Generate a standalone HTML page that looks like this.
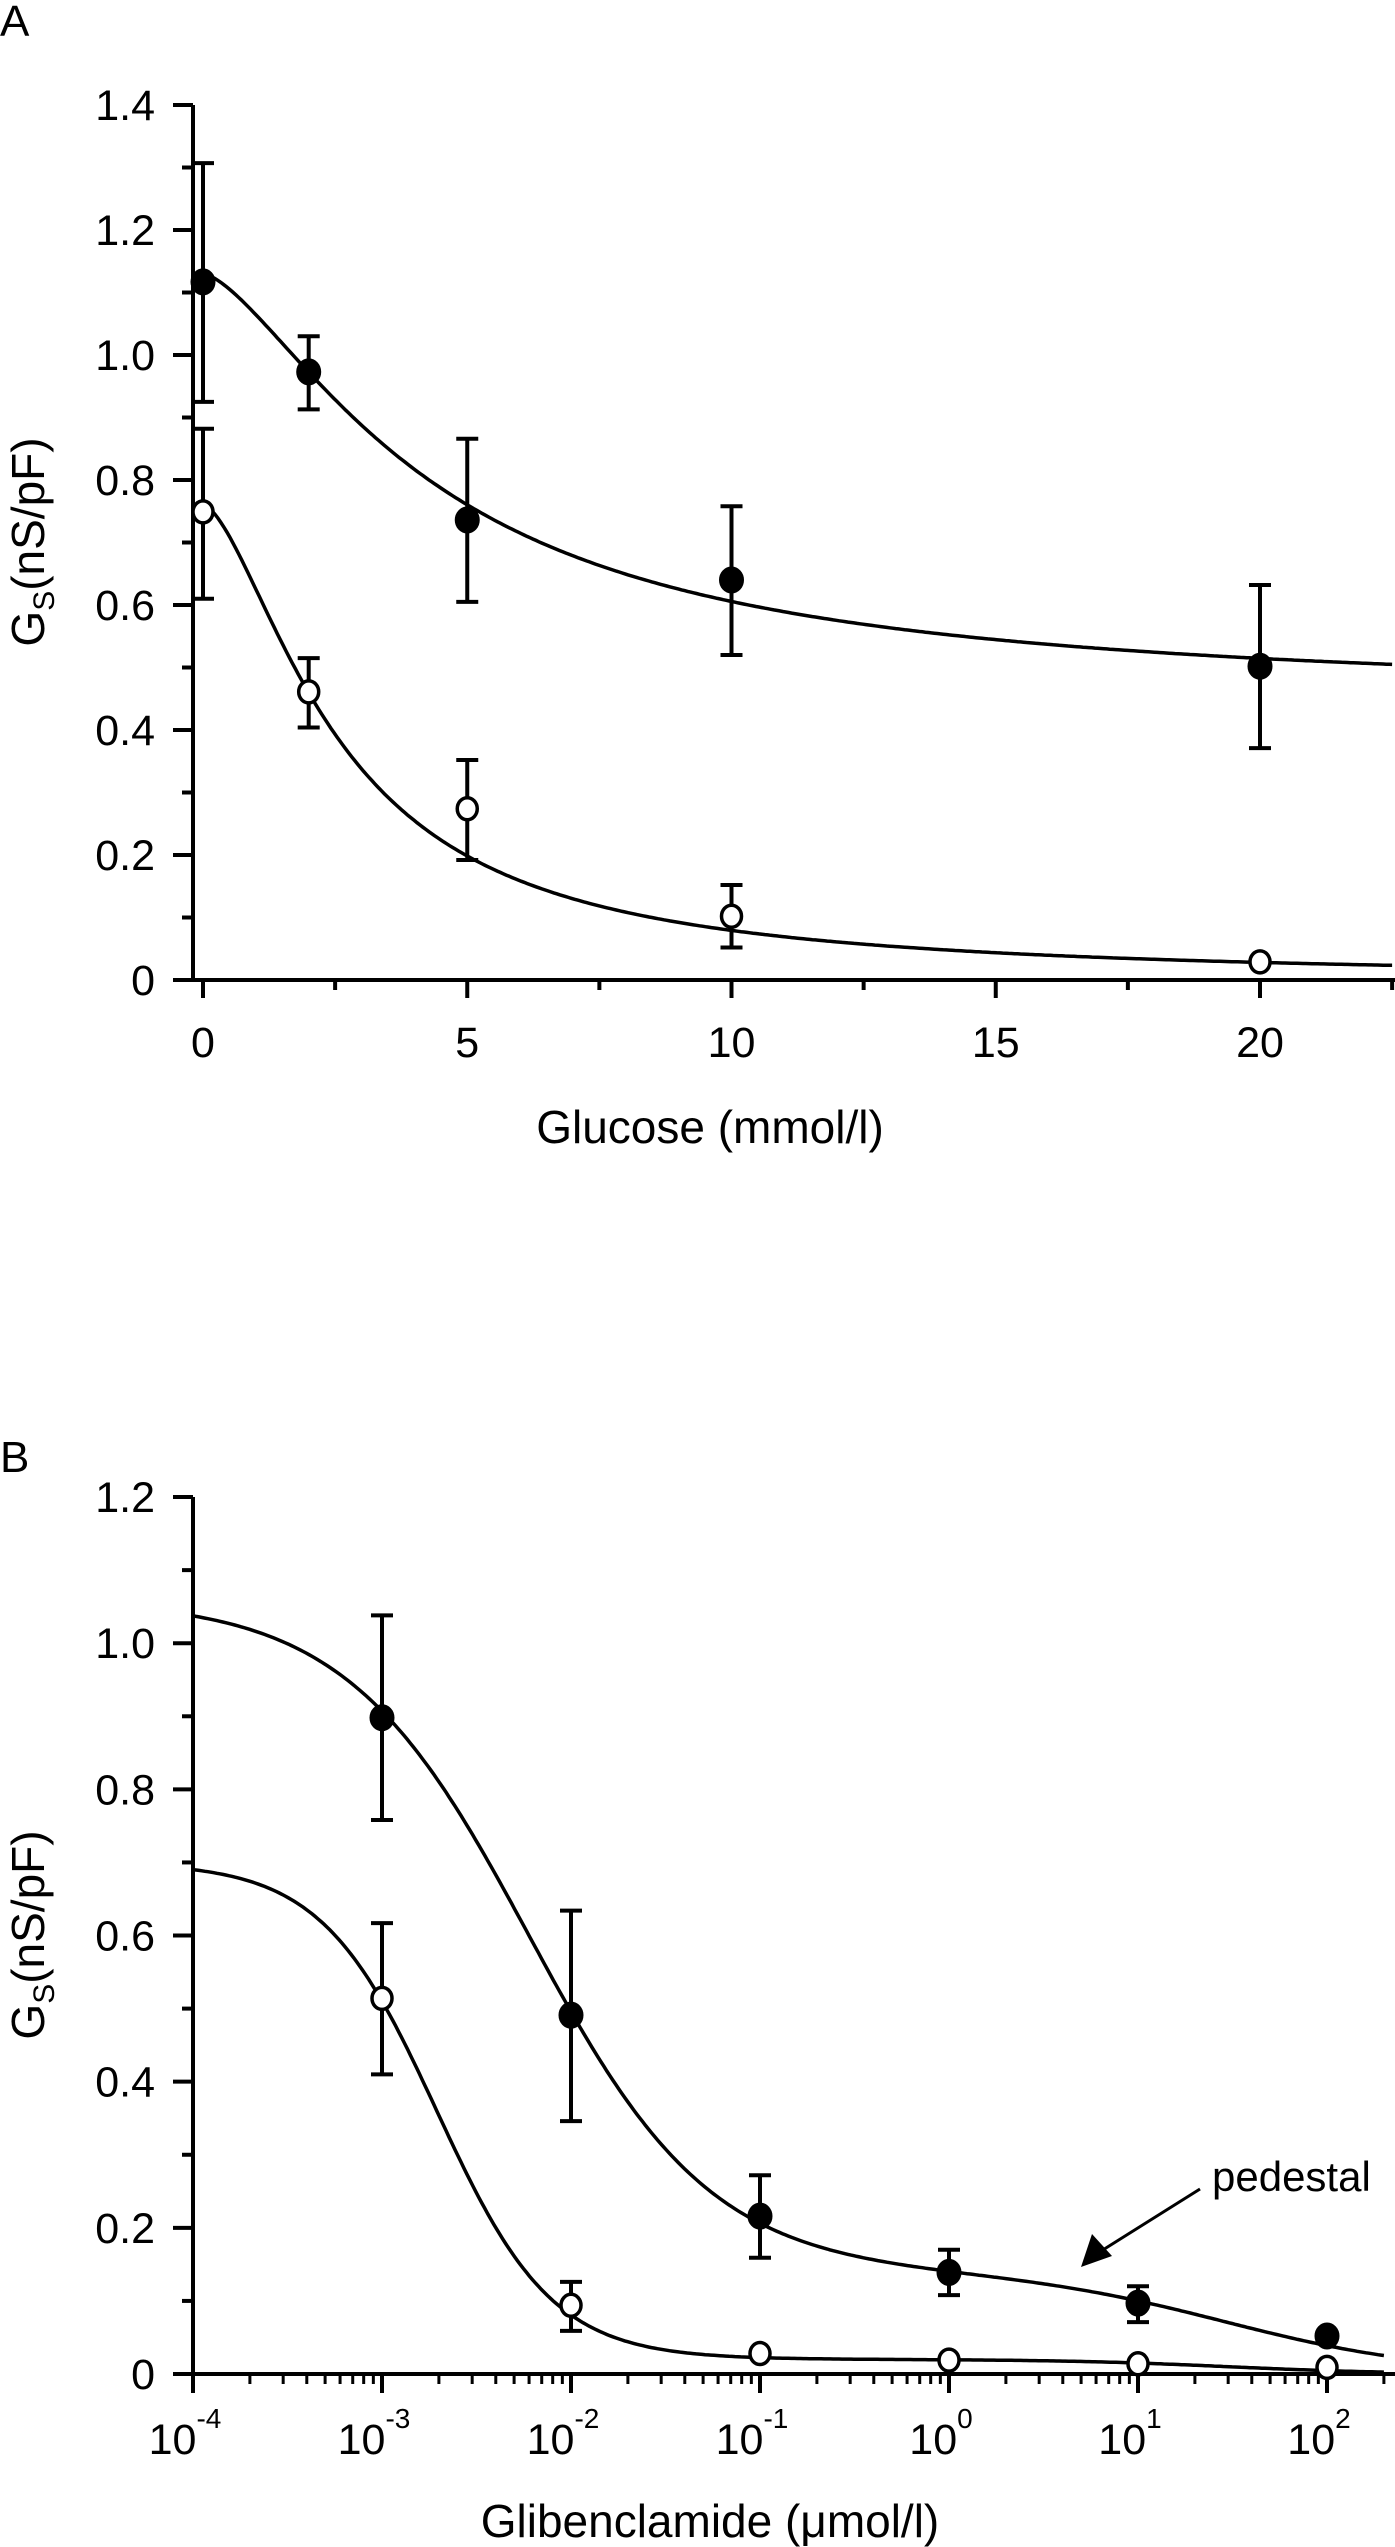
<!DOCTYPE html>
<html><head><meta charset="utf-8"><style>
html,body{margin:0;padding:0;background:#fff;}
svg{display:block;}
text{font-family:"Liberation Sans",Arial,sans-serif;fill:#000;}
</style></head><body>
<svg id="fig" width="1395" height="2547" viewBox="0 0 1395 2547" xmlns="http://www.w3.org/2000/svg">
<text x="0" y="36" font-size="44">A</text>
<text x="0" y="1472" font-size="44">B</text>
<g id="chartA"></g>
<g id="chartB"></g>
</svg>
<script>
// ---- Panel A data ----
const aX = [0, 2, 5, 10, 20];
const aFilled = [1.117, 0.973, 0.736, 0.640, 0.502];
const aFilledHi = [1.307, 1.030, 0.866, 0.758, 0.632];
const aFilledLo = [0.925, 0.913, 0.605, 0.520, 0.371];
const aOpen = [0.749, 0.461, 0.274, 0.102, 0.029];
const aOpenHi = [0.882, 0.515, 0.352, 0.152, null];
const aOpenLo = [0.610, 0.404, 0.192, 0.052, null];
const aYTicks = ["0", "0.2", "0.4", "0.6", "0.8", "1.0", "1.2", "1.4"];
const aXTicks = ["0", "5", "10", "15", "20"];
// fit params (Hill): ymin, ymax, K, n
const aFitFilled = [0.45, 1.13, 4.45, 1.5];
const aFitOpen = [0.0, 0.76, 2.61, 1.6];
// ---- Panel B data ----
const bX = [1e-3, 1e-2, 1e-1, 1, 10, 100];
const bFilled = [0.898, 0.491, 0.216, 0.139, 0.097, 0.052];
const bFilledHi = [1.038, 0.634, 0.272, 0.170, 0.120, null];
const bFilledLo = [0.758, 0.346, 0.159, 0.108, 0.071, null];
const bOpen = [0.514, 0.094, 0.028, 0.019, 0.014, 0.009];
const bOpenHi = [0.617, 0.126, null, null, null, null];
const bOpenLo = [0.410, 0.059, null, null, null, null];
const bYTicks = ["0", "0.2", "0.4", "0.6", "0.8", "1.0", "1.2"];
const bXExp = ["-4", "-3", "-2", "-1", "0", "1", "2"];
// two-site fits: A1,K1,n1,A2,K2,n2
const bFitFilled = [0.92, 6e-3, 0.9, 0.14, 30, 0.8];
const bFitOpen = [0.68, 1.95e-3, 1.42, 0.02, 30, 1];

const NS = "http://www.w3.org/2000/svg";
function mk(parent, tag, attrs) {
  const e = document.createElementNS(NS, tag);
  for (const k in attrs) e.setAttribute(k, attrs[k]);
  parent.appendChild(e);
  return e;
}
function drawPoints(g, xs, ys, his, los, sx, sy, filled, prefix) {
  for (let i = 0; i < xs.length; i++) {
    const cx = sx(xs[i]);
    if (his[i] !== null) {
      const eb = mk(g, "path", {d: `M${cx},${sy(his[i])}V${sy(los[i])}M${cx-11},${sy(his[i])}H${cx+11}M${cx-11},${sy(los[i])}H${cx+11}`, stroke: "#000", "stroke-width": 4, fill: "none"});
      
      
    }
  }
  for (let i = 0; i < xs.length; i++) {
    const c = mk(g, "ellipse", {cx: sx(xs[i]), cy: sy(ys[i]), rx: filled ? 12 : 10, ry: filled ? 13 : 11, fill: filled ? "#000" : "#fff", stroke: "#000", "stroke-width": filled ? 1 : 3.5});
    
    
  }
}
function curve(g, fn, sx, sy, x0, x1, log, name) {
  let d = "";
  for (let i = 0; i <= 400; i++) {
    let x = log ? Math.pow(10, Math.log10(x0) + (Math.log10(x1) - Math.log10(x0)) * i / 400) : x0 + (x1 - x0) * i / 400;
    d += (i ? "L" : "M") + sx(x).toFixed(1) + "," + sy(fn(x)).toFixed(1);
  }
  const p = mk(g, "path", {d: d, fill: "none", stroke: "#000", "stroke-width": 3.5});
  
  
}

// ---------- Chart A ----------
(function(){
  const g = document.getElementById("chartA");
  const X0 = 193, Y0 = 980, R = 1395;
  const sx = v => 203 + v * 52.85;
  const sy = v => Y0 - v * 625;
  const axes = mk(g, "path", {d: `M${X0},${sy(1.4)}V${Y0}H${R}`, stroke: "#000", "stroke-width": 4, fill: "none"});
  
  
  for (let i = 0; i < aYTicks.length; i++) {
    const v = i * 0.2, y = sy(v);
    const t = mk(g, "line", {x1: X0 - 20, x2: X0, y1: y, y2: y, stroke: "#000", "stroke-width": 4});
    
    
    const lb = mk(g, "text", {x: X0 - 38, y: y + 15, "font-size": 43, "text-anchor": "end"});
    lb.textContent = aYTicks[i];
    
    
    if (i < aYTicks.length - 1) {
      const m = mk(g, "line", {x1: X0 - 11, x2: X0, y1: sy(v + 0.1), y2: sy(v + 0.1), stroke: "#000", "stroke-width": 4});
      
      
    }
  }
  for (let i = 0; i < aXTicks.length; i++) {
    const v = +aXTicks[i], x = sx(v);
    const t = mk(g, "line", {x1: x, x2: x, y1: Y0, y2: Y0 + 18, stroke: "#000", "stroke-width": 4});
    
    
    const m = mk(g, "line", {x1: sx(v + 2.5), x2: sx(v + 2.5), y1: Y0, y2: Y0 + 10, stroke: "#000", "stroke-width": 4});
    
    
    const lb = mk(g, "text", {x: x, y: Y0 + 77, "font-size": 43, "text-anchor": "middle"});
    lb.textContent = aXTicks[i];
    
    
  }
  const xt = mk(g, "text", {x: 710, y: 1143, "font-size": 46, "text-anchor": "middle"});
  xt.textContent = "Glucose (mmol/l)";
  
  
  const yt = mk(g, "text", {x: 0, y: 0, "font-size": 46, "text-anchor": "middle", transform: "translate(44,542) rotate(-90)"});
  yt.innerHTML = 'G<tspan font-size="30" dy="10">S</tspan><tspan dy="-10">(nS/pF)</tspan>';
  
  
  const hill = p => x => p[0] + (p[1] - p[0]) / (1 + Math.pow(x / p[2], p[3]));
  curve(g, hill(aFitFilled), sx, sy, 0.0001, 22.5, false, 'fit-curve-filled-a');
  curve(g, hill(aFitOpen), sx, sy, 0.0001, 22.5, false, 'fit-curve-open-a');
  drawPoints(g, aX, aFilled, aFilledHi, aFilledLo, sx, sy, true, 'filled-a');
  drawPoints(g, aX, aOpen, aOpenHi, aOpenLo, sx, sy, false, 'open-a');
})();

// ---------- Chart B ----------
(function(){
  const g = document.getElementById("chartB");
  const X0 = 193, Y0 = 2374, R = 1395;
  const sx = v => X0 + (Math.log10(v) + 4) * 189;
  const sy = v => Y0 - v * 730.8;
  const axes = mk(g, "path", {d: `M${X0},${sy(1.2)}V${Y0}H${R}`, stroke: "#000", "stroke-width": 4, fill: "none"});
  
  
  for (let i = 0; i < bYTicks.length; i++) {
    const v = i * 0.2, y = sy(v);
    const t = mk(g, "line", {x1: X0 - 20, x2: X0, y1: y, y2: y, stroke: "#000", "stroke-width": 4});
    
    
    const lb = mk(g, "text", {x: X0 - 38, y: y + 15, "font-size": 43, "text-anchor": "end"});
    lb.textContent = bYTicks[i];
    
    
    if (i < bYTicks.length - 1) {
      const m = mk(g, "line", {x1: X0 - 11, x2: X0, y1: sy(v + 0.1), y2: sy(v + 0.1), stroke: "#000", "stroke-width": 4});
      
      
    }
  }
  for (let i = 0; i < bXExp.length; i++) {
    const e = +bXExp[i], x = sx(Math.pow(10, e));
    const t = mk(g, "line", {x1: x, x2: x, y1: Y0, y2: Y0 + 19, stroke: "#000", "stroke-width": 4});
    
    
    for (let k = 2; k <= 9; k++) {
      const mx = sx(k * Math.pow(10, e));
      if (mx > R) break;
      const m = mk(g, "line", {x1: mx, x2: mx, y1: Y0, y2: Y0 + 10, stroke: "#000", "stroke-width": 3});
      
      
    }
    const lb = mk(g, "text", {x: x - 8, y: Y0 + 80, "font-size": 43, "text-anchor": "middle"});
    lb.innerHTML = '10<tspan font-size="28" dy="-26">' + bXExp[i] + '</tspan>';
    
    
  }
  const xt = mk(g, "text", {x: 710, y: 2537, "font-size": 46, "text-anchor": "middle"});
  xt.textContent = "Glibenclamide (\u03bcmol/l)";
  
  
  const yt = mk(g, "text", {x: 0, y: 0, "font-size": 46, "text-anchor": "middle", transform: "translate(44,1935) rotate(-90)"});
  yt.innerHTML = 'G<tspan font-size="30" dy="10">S</tspan><tspan dy="-10">(nS/pF)</tspan>';
  
  
  const two = p => x => p[0] / (1 + Math.pow(x / p[1], p[2])) + p[3] / (1 + Math.pow(x / p[4], p[5]));
  curve(g, two(bFitFilled), sx, sy, 1e-4, 200, true, 'fit-curve-filled-b');
  curve(g, two(bFitOpen), sx, sy, 1e-4, 200, true, 'fit-curve-open-b');
  drawPoints(g, bX, bFilled, bFilledHi, bFilledLo, sx, sy, true, 'filled-b');
  drawPoints(g, bX, bOpen, bOpenHi, bOpenLo, sx, sy, false, 'open-b');
  const pl = mk(g, "text", {x: 1212, y: 2191, "font-size": 42});
  pl.textContent = "pedestal";
  
  
  const ar = mk(g, "line", {x1: 1200, y1: 2189, x2: 1098, y2: 2253, stroke: "#000", "stroke-width": 3});
  
  
  const ah = mk(g, "polygon", {points: "1081,2267 1092,2234 1112,2256", fill: "#000"});
  
  
})();
</script>
</body></html>
